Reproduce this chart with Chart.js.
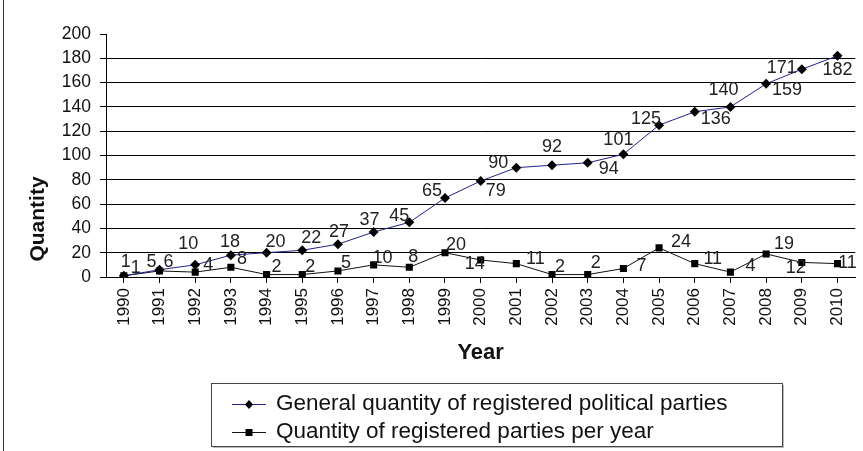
<!DOCTYPE html>
<html>
<head>
<meta charset="utf-8">
<script src="https://cdn.jsdelivr.net/npm/chart.js@4.4.0/dist/chart.umd.min.js"></script>
<style>
  body { margin: 0; background: #fff; }
  canvas { display: block; }
</style>
</head>
<body>
<canvas id="chart" width="863" height="451"></canvas>
<script>
const years = [
  "1990", "1991", "1992", "1993", "1994", "1995", "1996", "1997", "1998", "1999", "2000",
  "2001", "2002", "2003", "2004", "2005", "2006", "2007", "2008", "2009", "2010",
];
const totalParties = [1, 6, 10, 18, 20, 22, 27, 37, 45, 65, 79, 90, 92, 94, 101, 125, 136, 140, 159, 171, 182];
const newParties = [1, 5, 4, 8, 2, 2, 5, 10, 8, 20, 14, 11, 2, 2, 7, 24, 11, 4, 19, 12, 11];
const yTicks = [0, 20, 40, 60, 80, 100, 120, 140, 160, 180, 200];

// where each value label sits next to its point (dx, dy in px)
const totalLabelPos = [
  [2, -14], [9, -8], [-7, -21], [-1, -13], [9, -11], [9, -12], [1, -12], [-4, -12], [-10, -6], [-13, -7],
  [15, 10], [-18, -5], [0, -18], [21, 6], [-5, -14], [-13, -6], [21, 7], [-7, -17], [21, 6], [-20, -1], [0, 14],
];
const newLabelPos = [
  [12, -8], [-8, -9], [13, -7], [11, -8], [10, -8], [8, -8], [8, -8], [9, -7], [4, -10], [11, -8],
  [-6, 4], [19, -5], [8, -8], [8, -12], [18, -2], [22, -6], [18, -5], [20, -6], [18, -10], [-6, 6], [10, -1],
];

const FONT = "'Liberation Sans', Arial, sans-serif";

const valueLabels = {
  id: "valueLabels",
  afterDatasetsDraw(chart) {
    const ctx = chart.ctx;
    const pos = [totalLabelPos, newLabelPos];
    ctx.save();
    ctx.font = "18px " + FONT;
    ctx.fillStyle = "#222";
    ctx.textAlign = "center";
    ctx.textBaseline = "middle";
    chart.data.datasets.forEach((ds, di) => {
      chart.getDatasetMeta(di).data.forEach((pt, i) => {
        const [dx, dy] = pos[di][i];
        ctx.fillText(String(ds.data[i]), pt.x + dx, pt.y + dy);
      });
    });
    ctx.restore();
  },
};

const boxLegend = {
  id: "boxLegend",
  afterDraw(chart) {
    const ctx = chart.ctx;
    ctx.save();
    // outer frame line on the left
    ctx.strokeStyle = "#333";
    ctx.lineWidth = 1;
    ctx.beginPath();
    ctx.moveTo(3.5, 0);
    ctx.lineTo(3.5, 451);
    ctx.stroke();

    // y axis title, sits lower than the middle of the axis
    ctx.save();
    ctx.translate(38, 219);
    ctx.rotate(-Math.PI / 2);
    ctx.font = "bold 21px " + FONT;
    ctx.fillStyle = "#111";
    ctx.textAlign = "center";
    ctx.textBaseline = "middle";
    ctx.fillText("Quantity", 0, 0);
    ctx.restore();

    ctx.fillStyle = "#bbb";
    ctx.fillRect(213, 446, 571, 2);
    ctx.fillRect(782, 385, 2, 63);
    ctx.strokeStyle = "#444";
    ctx.strokeRect(211.5, 383.5, 571, 63);

    ctx.font = "22.5px " + FONT;
    ctx.textBaseline = "middle";
    ctx.textAlign = "left";
    const rows = [404, 432];
    chart.data.datasets.forEach((ds, i) => {
      const y = rows[i];
      ctx.strokeStyle = ds.borderColor;
      ctx.lineWidth = 1;
      ctx.beginPath();
      ctx.moveTo(232, y + 0.5);
      ctx.lineTo(266, y + 0.5);
      ctx.stroke();
      ctx.fillStyle = "#000";
      ctx.beginPath();
      if (ds.pointStyle === "rectRot") {
        ctx.moveTo(249, y - 4);
        ctx.lineTo(253, y + 0.5);
        ctx.lineTo(249, y + 5);
        ctx.lineTo(245, y + 0.5);
      } else {
        ctx.rect(245.5, y - 3, 7, 7);
      }
      ctx.fill();
      ctx.fillStyle = "#111";
      ctx.fillText(ds.label, 276, y);
    });
    ctx.restore();
  },
};

new Chart(document.getElementById("chart"), {
  type: "line",
  data: {
    labels: years,
    datasets: [
      {
        label: "General quantity of registered political parties",
        data: totalParties,
        borderColor: "#22228a",
        borderWidth: 1,
        pointStyle: "rectRot",
        pointRadius: 5,
        pointBackgroundColor: "#000",
        pointBorderColor: "#000",
        pointBorderWidth: 0,
        tension: 0,
      },
      {
        label: "Quantity of registered parties per year",
        data: newParties,
        borderColor: "#111",
        borderWidth: 1,
        pointStyle: "rect",
        pointRadius: 5,
        pointBackgroundColor: "#000",
        pointBorderColor: "#000",
        pointBorderWidth: 0,
        tension: 0,
      },
    ],
  },
  options: {
    responsive: false,
    animation: false,
    layout: { padding: { left: 24, top: 34, right: 2, bottom: 81 } },
    plugins: {
      legend: { display: false },
      tooltip: { enabled: false },
    },
    scales: {
      x: {
        offset: true,
        grid: {
          drawOnChartArea: false,
          color: "#000",
          tickLength: 6,
        },
        border: { color: "#000" },
        ticks: {
          autoSkip: false,
          minRotation: 90,
          maxRotation: 90,
          color: "#111",
          padding: 5,
          font: { family: FONT, size: 17 },
        },
        title: {
          display: true,
          text: "Year",
          color: "#111",
          font: { family: FONT, size: 22, weight: "bold" },
          padding: { top: 4, bottom: 4 },
        },
        afterFit(scale) {
          scale.height = 93;
        },
      },
      y: {
        min: 0,
        max: 200,
        afterBuildTicks(scale) {
          scale.ticks = yTicks.map((v) => ({ value: v }));
        },
        grid: {
          color: (c) => (c.tick && c.tick.value === 200 ? "rgba(0,0,0,0)" : "#000"),
          tickColor: "#000",
          tickLength: 6,
        },
        border: { color: "#000" },
        ticks: {
          color: "#111",
          padding: 9,
          font: { family: FONT, size: 17.5 },
        },
        afterFit(scale) {
          scale.width = 82;
        },
      },
    },
  },
  plugins: [valueLabels, boxLegend],
});
</script>
</body>
</html>
